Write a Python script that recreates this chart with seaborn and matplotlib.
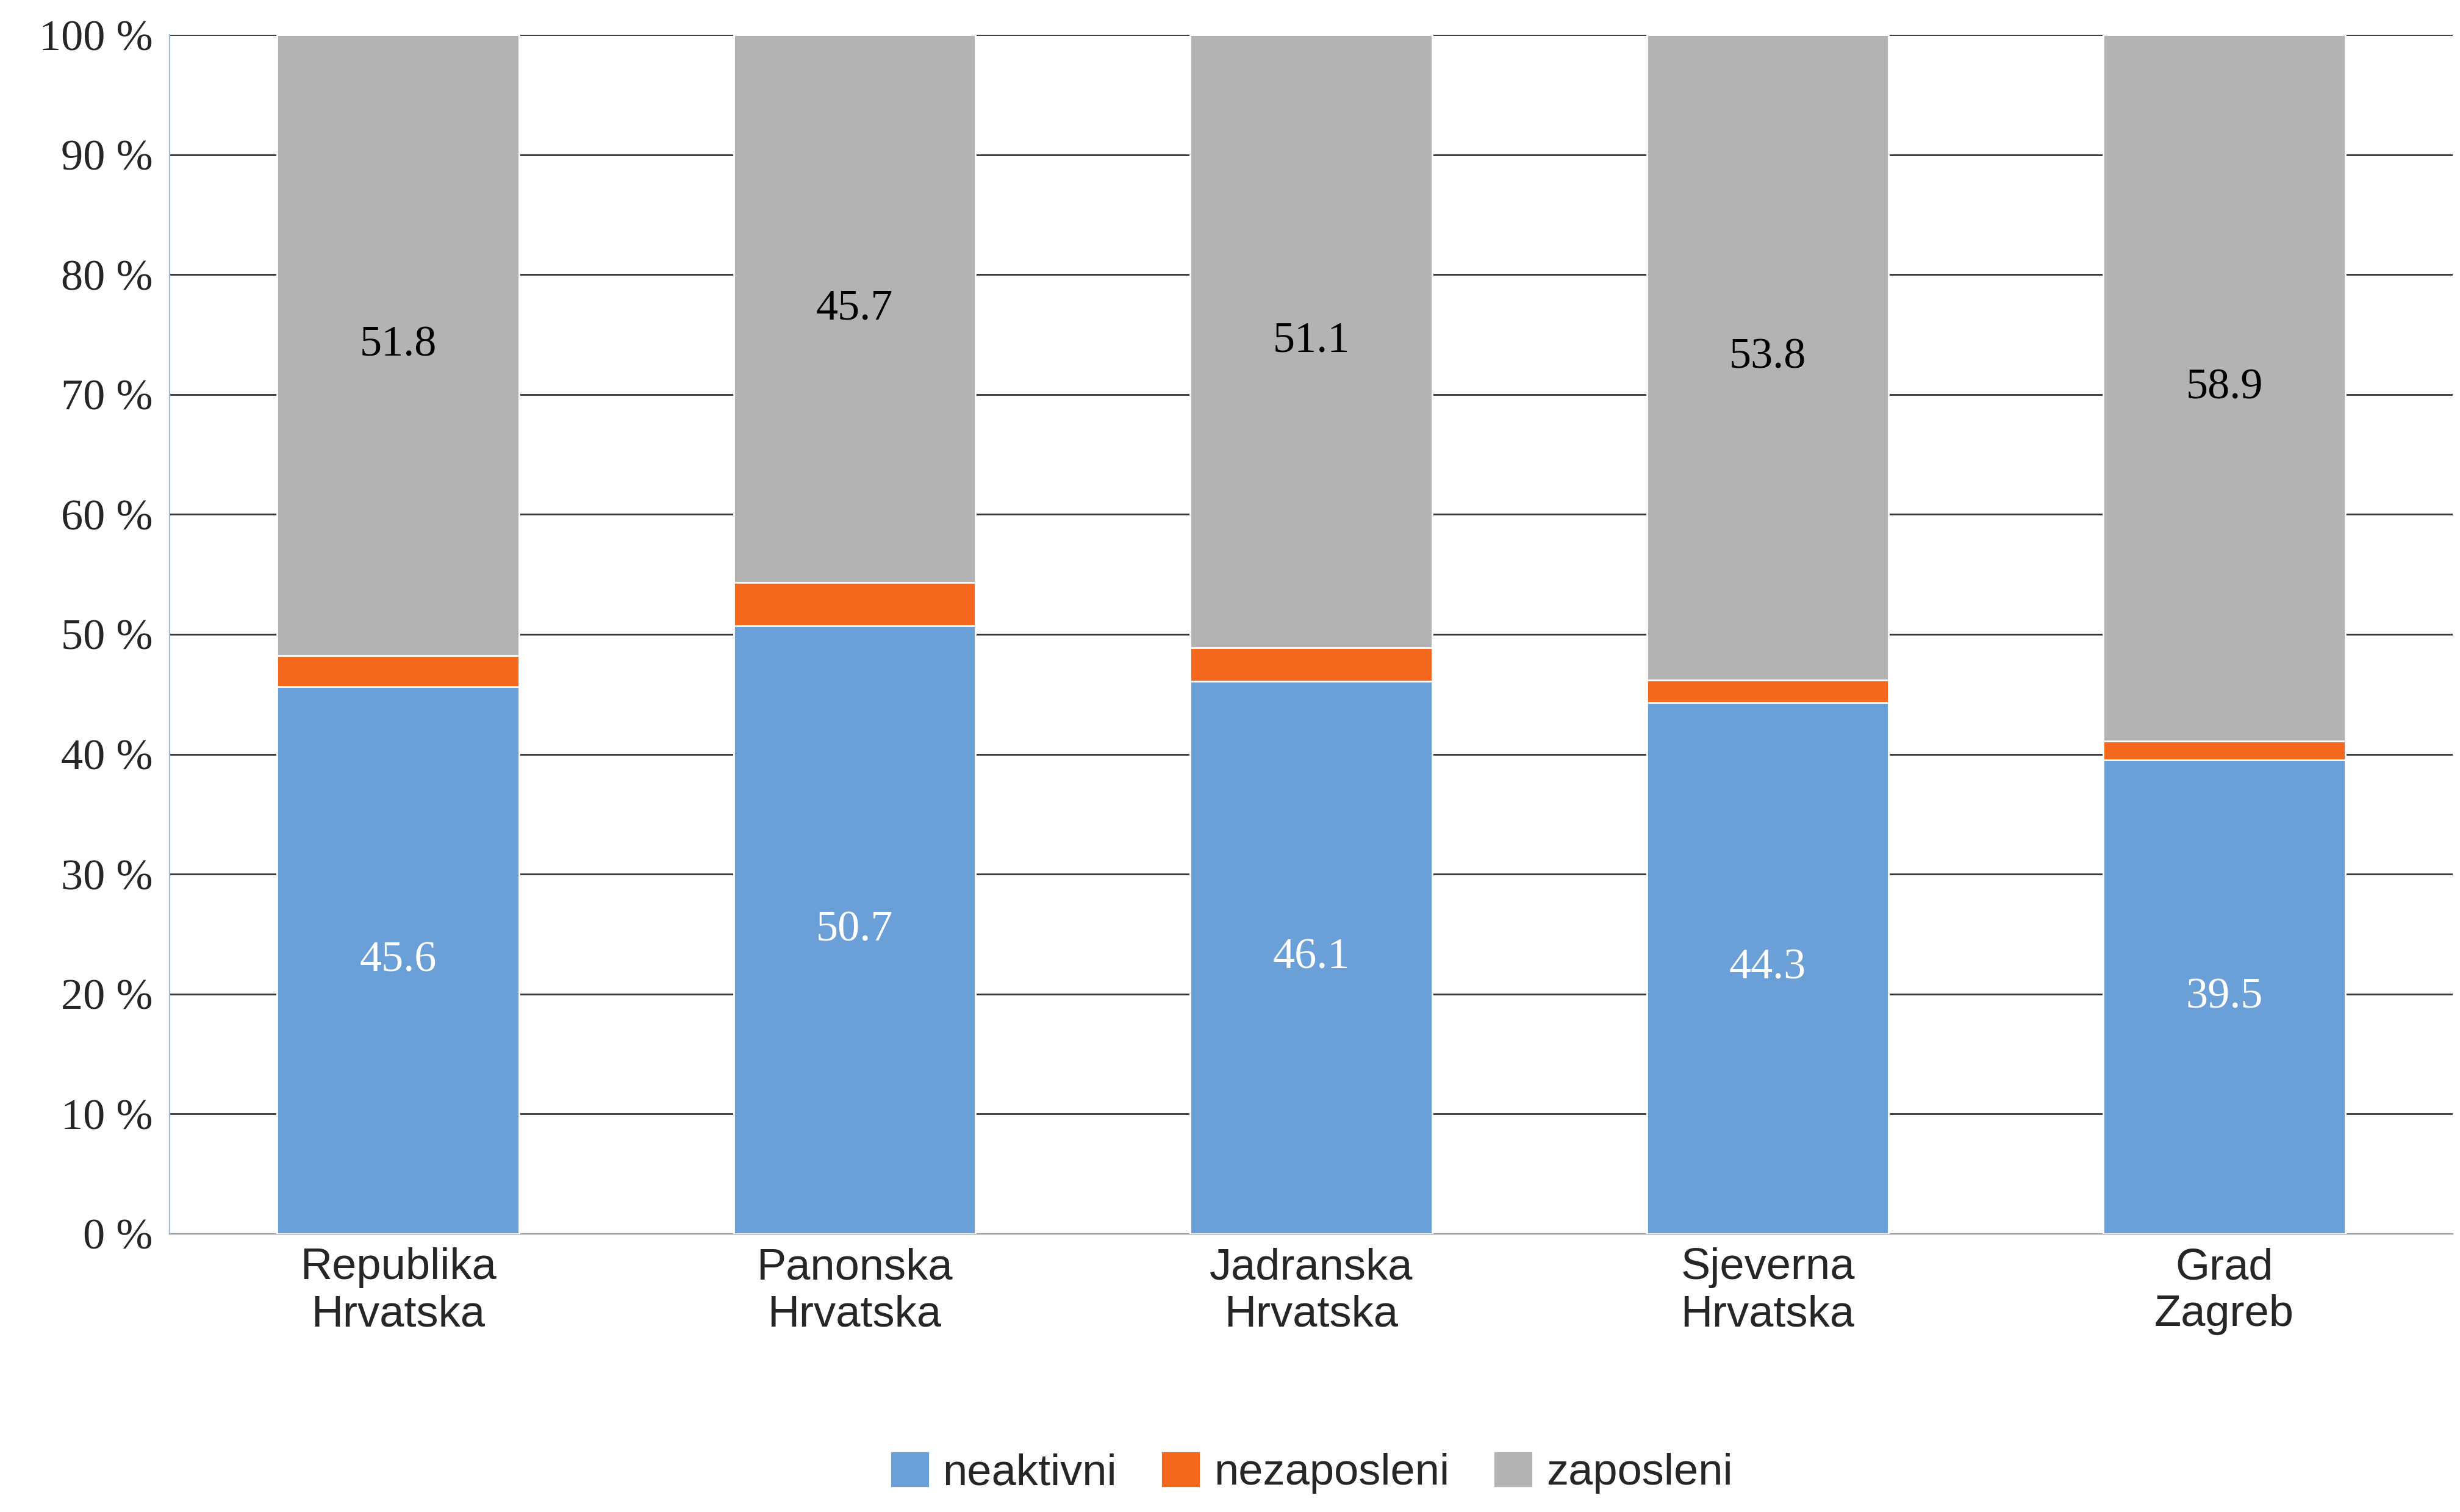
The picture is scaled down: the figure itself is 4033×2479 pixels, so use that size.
import matplotlib
matplotlib.use("Agg")
from matplotlib import pyplot as plt
import seaborn as sns
import pandas as pd
import numpy as np

regions = ['Republika\nHrvatska', 'Panonska\nHrvatska', 'Jadranska\nHrvatska', 'Sjeverna\nHrvatska', 'Grad\nZagreb']
neaktivni = [45.6, 50.7, 46.1, 44.3, 39.5]
zaposleni = [51.8, 45.7, 51.1, 53.8, 58.9]
nezaposleni = [100 - a - b for a, b in zip(neaktivni, zaposleni)]

df = pd.DataFrame({'region': regions, 'neaktivni': neaktivni,
                   'nezaposleni': nezaposleni, 'zaposleni': zaposleni})
df['low'] = df['neaktivni']
df['mid'] = df['neaktivni'] + df['nezaposleni']
df['top'] = df['mid'] + df['zaposleni']

sns.set_style("white")
plt.rcParams['font.family'] = ['Liberation Sans', 'DejaVu Sans']

c_blue, c_orange, c_grey = '#6a9fd8', '#f4691e', '#b3b3b3'
fig, ax = plt.subplots(figsize=(20.165, 12.395), dpi=200)
fig.subplots_adjust(left=0.069, right=0.997, top=0.977, bottom=0.184)

w = 0.53
sns.barplot(data=df, x='region', y='top', color=c_grey, width=w, saturation=1, ax=ax, label='zaposleni', zorder=3)
sns.barplot(data=df, x='region', y='mid', color=c_orange, width=w, saturation=1, ax=ax, label='nezaposleni', zorder=3)
sns.barplot(data=df, x='region', y='low', color=c_blue, width=w, saturation=1, ax=ax, label='neaktivni', zorder=3)

for i, r in df.iterrows():
    ax.text(i, r['low'] / 2, f"{r['neaktivni']:.1f}", ha='center', va='center', color='white',
            fontsize=26, family='Liberation Serif', zorder=4)
    ax.text(i, r['mid'] + r['zaposleni'] / 2, f"{r['zaposleni']:.1f}", ha='center', va='center', color='black',
            fontsize=26, family='Liberation Serif', zorder=4)

ax.set_ylim(0, 100)
ax.set_xlim(-0.5, 4.5)
ax.set_yticks(np.arange(0, 101, 10))
ax.set_yticklabels([f"{v} %" for v in range(0, 101, 10)], family='Liberation Serif', fontsize=26)
ax.tick_params(axis='x', labelsize=26, length=0, pad=8)
ax.tick_params(axis='y', length=0, pad=10)
ax.yaxis.grid(True, color='#333333', linewidth=1.0, zorder=0)
ax.set_xlabel('')
ax.set_ylabel('')
for s in ['top', 'right']:
    ax.spines[s].set_visible(False)
ax.spines['left'].set_color('#9fbfdf')
ax.spines['bottom'].set_color('#999999')

h, l = ax.get_legend_handles_labels()
order = [l.index('neaktivni'), l.index('nezaposleni'), l.index('zaposleni')]
ax.legend([h[i] for i in order], [l[i] for i in order], loc='lower center', bbox_to_anchor=(0.5, -0.25),
          ncol=3, frameon=False, fontsize=26, handlelength=0.9, handleheight=0.9, handletextpad=0.3, columnspacing=1.0)

plt.savefig('out.png')
